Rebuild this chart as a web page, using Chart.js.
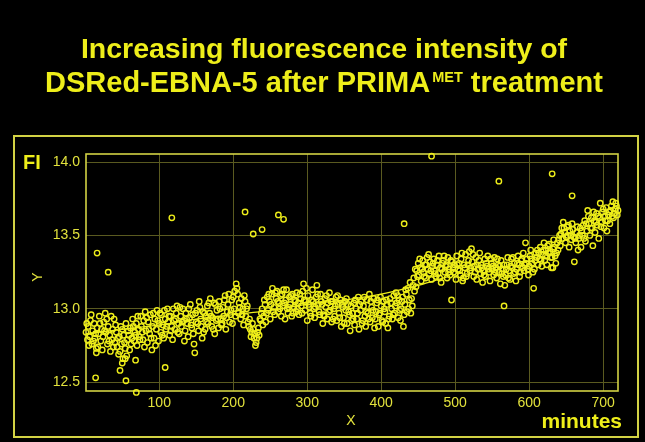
<!DOCTYPE html>
<html>
<head>
<meta charset="utf-8">
<title>DSRed-EBNA-5 fluorescence</title>
<script src="https://cdn.jsdelivr.net/npm/chart.js@4/dist/chart.umd.min.js"></script>
<style>
    html, body { margin: 0; padding: 0; background: #000; }
    #wrap { width: 645px; height: 442px; }
</style>
</head>
<body>
<div id="wrap"><canvas id="fiChart" width="645" height="442"></canvas></div>
<script>
// Trục và nhãn
const xTicks = [100, 200, 300, 400, 500, 600, 700];
const yTicks = [12.5, 13.0, 13.5, 14.0];
const xMin = 1, xMax = 720;
const yMin = 12.44, yMax = 14.055;

// Dữ liệu: [phút, FI]
const fi0to120 = [[1,12.84],[3,12.79],[4,12.88],[6,12.81],[7,12.92],[9,12.76],[10,12.85],[12,12.9],[13,12.8],[15,12.73],[16,12.87],[18,12.83],[19,12.95],[21,12.78],[22,12.86],[24,12.81],[25,12.91],[27,12.97],[28,12.84],[30,12.76],[31,12.88],[33,12.82],[34,12.71],[36,12.79],[37,12.86],[39,12.93],[40,12.77],[42,12.84],[43,12.74],[45,12.69],[46,12.81],[48,12.88],[49,12.76],[51,12.66],[52,12.82],[54,12.73],[55,12.9],[57,12.79],[58,12.85],[60,12.72],[61,12.87],[63,12.8],[64,12.93],[66,12.78],[67,12.84],[69,12.9],[70,12.75],[72,12.86],[73,12.81],[75,12.95],[76,12.88],[78,12.79],[79,12.92],[81,12.98],[82,12.85],[84,12.77],[85,12.91],[87,12.83],[88,12.96],[90,12.72],[91,12.88],[93,12.8],[94,12.93],[96,12.86],[97,12.99],[99,12.78],[100,12.9],[102,12.84],[103,12.96],[105,12.89],[106,12.8],[108,12.93],[109,12.86],[111,13.0],[112,12.91],[114,12.82],[115,12.95],[117,12.88],[118,12.79],[120,12.92],
    [2,12.9],[5,12.75],[8,12.96],[11,12.78],[14,12.83],[17,12.74],[20,12.9],[23,12.72],[26,12.85],[29,12.93],[32,12.78],[35,12.95],[38,12.74],[41,12.89],[44,12.8],[47,12.71],[50,12.86],[53,12.77],[56,12.68],[59,12.82],[62,12.76],[65,12.88],[68,12.82],[71,12.95],[74,12.79],[77,12.84],[80,12.74],[83,12.94],[86,12.86],[89,12.8],[92,12.97],[95,12.75],[98,12.92],[101,12.97],[104,12.82],[107,12.99],[110,12.88],[113,12.95],[116,12.85],[119,13.0]];

const fi120to240 = [[121,12.86],[123,12.97],[124,13.02],[126,12.9],[127,12.83],[129,12.95],[130,12.88],[132,13.0],[133,12.92],[135,12.85],[136,12.97],[138,12.9],[139,12.81],[141,12.94],[142,13.03],[144,12.87],[145,12.96],[147,12.76],[148,12.7],[150,12.91],[151,12.99],[153,12.85],[154,13.05],[156,12.93],[157,12.88],[159,12.98],[160,12.84],[162,12.86],[163,12.95],[165,13.02],[166,12.9],[168,12.97],[169,13.07],[171,12.88],[172,12.94],[174,13.04],[175,12.83],[177,12.92],[178,12.99],[180,12.87],[181,13.05],[183,12.93],[184,12.89],[186,13.01],[187,12.95],[189,13.09],[190,12.86],[192,12.98],[193,13.03],[195,12.91],[196,12.96],[198,13.06],[199,12.9],[201,13.0],[202,13.12],[204,13.17],[205,13.14],[207,12.97],[208,13.04],[210,12.93],[211,13.07],[213,13.0],[214,12.89],[216,13.05],[217,12.95],[219,13.02],[220,12.91],[222,12.93],[223,12.86],[225,12.84],[226,12.9],[228,12.8],[229,12.83],[231,12.77],[232,12.8],[234,12.87],[235,12.82],[237,12.92],[238,12.97],[240,12.89],
    [122,12.93],[125,12.84],[128,13.01],[131,12.91],[134,12.78],[137,12.93],[140,13.0],[143,12.89],[146,12.83],[149,12.97],[152,12.9],[155,13.01],[158,12.8],[161,12.97],[164,12.91],[167,13.04],[170,12.95],[173,12.86],[176,13.03],[179,12.93],[182,13.0],[185,12.9],[188,13.06],[191,12.94],[194,13.1],[197,12.99],[200,13.08],[203,12.95],[206,13.1],[209,13.01],[212,12.96],[215,13.09],[218,13.0],[221,12.88],[224,12.81],[227,12.86],[230,12.75],[233,12.84],[236,12.93],[239,13.0]];

const fi240to360 = [[241,12.95],[243,13.03],[244,12.91],[246,13.08],[247,12.99],[249,13.05],[250,12.93],[252,13.1],[253,13.14],[255,13.01],[256,12.96],[258,13.07],[259,13.12],[261,12.98],[262,13.04],[264,13.09],[265,12.95],[267,13.02],[268,13.13],[270,12.93],[271,13.06],[273,13.0],[274,12.97],[276,13.08],[277,13.03],[279,12.95],[280,13.1],[282,13.01],[283,13.06],[285,12.98],[286,13.11],[288,13.04],[289,12.96],[291,13.07],[292,13.02],[294,13.12],[295,13.17],[297,12.99],[298,13.05],[300,12.92],[301,13.09],[303,13.01],[304,12.97],[306,13.06],[307,13.13],[309,13.0],[310,12.94],[312,13.08],[313,13.16],[315,13.03],[316,12.98],[318,13.1],[319,13.05],[321,12.9],[322,12.96],[324,13.07],[325,13.01],[327,12.93],[328,13.04],[330,13.11],[331,12.99],[333,12.91],[334,13.05],[336,13.0],[337,12.95],[339,13.08],[340,12.92],[342,13.03],[343,12.97],[345,13.06],[346,12.88],[348,13.01],[349,12.94],[351,13.05],[352,12.99],[354,12.9],[355,13.03],[357,12.96],[358,12.85],[360,12.92],
    [242,13.06],[245,12.97],[248,13.1],[251,13.03],[254,12.98],[257,13.11],[260,13.05],[263,13.0],[266,13.1],[269,13.04],[272,13.13],[275,13.01],[278,13.09],[281,12.97],[284,13.05],[287,13.0],[290,13.1],[293,12.97],[296,13.06],[299,13.14],[302,13.03],[305,12.95],[308,13.05],[311,13.01],[314,13.1],[317,12.96],[320,13.03],[323,12.95],[326,13.09],[329,12.98],[332,13.05],[335,12.93],[338,13.02],[341,13.09],[344,12.94],[347,13.03],[350,12.9],[353,13.07],[356,12.98],[359,13.02]];

const fi360to450 = [[361,12.97],[363,13.04],[364,12.89],[366,13.0],[367,12.93],[369,13.08],[370,12.86],[372,12.99],[373,13.05],[375,12.92],[376,13.02],[378,12.95],[379,12.88],[381,13.06],[382,12.97],[384,13.1],[385,12.91],[387,13.01],[388,12.94],[390,13.07],[391,12.87],[393,12.98],[394,13.04],[396,12.88],[397,12.96],[399,13.08],[400,13.02],[402,12.91],[403,13.05],[405,12.98],[406,12.9],[408,13.03],[409,12.87],[411,12.95],[412,13.07],[414,13.0],[415,12.93],[417,13.09],[418,12.97],[420,13.11],[421,13.04],[423,12.94],[424,13.06],[426,12.92],[427,13.0],[429,13.08],[430,12.88],[432,13.03],[433,13.13],[435,12.98],[436,13.14],[438,13.06],[439,13.18],[440,12.97],[441,13.07],[442,13.02],[444,13.21],[445,13.12],[447,13.15],[448,13.26],
    [362,12.93],[365,13.06],[368,12.97],[371,13.03],[374,12.9],[377,13.08],[380,12.98],[383,12.93],[386,13.05],[389,12.99],[392,12.93],[395,13.06],[398,12.97],[401,12.92],[404,13.0],[407,13.06],[410,12.93],[413,13.04],[416,12.96],[419,13.02],[422,13.09],[425,12.99],[428,13.05],[431,12.96],[434,13.1],[437,13.0],[443,13.16],[446,13.27],[449,13.22]];

const fi450to613 = [[450,13.31],[451,13.23],[453,13.28],[454,13.19],[456,13.33],[457,13.25],[459,13.3],[460,13.21],[462,13.35],[463,13.27],[465,13.24],[466,13.32],[468,13.2],[469,13.29],[471,13.34],[472,13.26],[474,13.22],[475,13.3],[477,13.24],[478,13.36],[480,13.28],[481,13.18],[483,13.31],[484,13.33],[486,13.25],[487,13.29],[489,13.21],[490,13.35],[492,13.27],[493,13.23],[496,13.32],[498,13.25],[499,13.3],[501,13.2],[502,13.36],[504,13.27],[505,13.31],[507,13.23],[508,13.34],[510,13.19],[511,13.21],[513,13.28],[514,13.37],[516,13.24],[517,13.3],[519,13.39],[520,13.26],[522,13.41],[523,13.32],[525,13.22],[526,13.29],[528,13.35],[529,13.2],[531,13.27],[532,13.33],[534,13.24],[535,13.3],[537,13.18],[538,13.26],[540,13.34],[541,13.22],[543,13.29],[544,13.36],[546,13.25],[547,13.19],[549,13.31],[550,13.27],[552,13.23],[553,13.35],[555,13.28],[556,13.21],[558,13.3],[559,13.25],[561,13.17],[562,13.33],[564,13.27],[565,13.22],[567,13.16],[568,13.23],[570,13.3],[571,13.35],[573,13.26],[574,13.2],[576,13.34],[577,13.28],[579,13.24],[580,13.31],[582,13.19],[583,13.27],[585,13.36],[586,13.3],[588,13.25],[589,13.33],[591,13.28],[592,13.38],[594,13.3],[595,13.45],[597,13.34],[598,13.27],[599,13.23],[601,13.36],[602,13.4],[604,13.31],[605,13.25],[606,13.14],[608,13.33],[609,13.38],[611,13.4],[612,13.3],
    [452,13.34],[455,13.27],[458,13.22],[461,13.3],[464,13.37],[467,13.26],[470,13.31],[473,13.24],[476,13.33],[479,13.21],[482,13.27],[485,13.36],[488,13.3],[491,13.25],[494,13.33],[497,13.28],[500,13.24],[503,13.3],[506,13.26],[509,13.38],[512,13.3],[515,13.22],[518,13.33],[521,13.28],[524,13.37],[527,13.25],[530,13.3],[533,13.38],[536,13.28],[539,13.23],[542,13.31],[545,13.27],[548,13.34],[551,13.29],[554,13.25],[557,13.34],[560,13.29],[563,13.24],[566,13.3],[569,13.27],[572,13.21],[575,13.29],[578,13.35],[581,13.25],[584,13.31],[587,13.22],[590,13.34],[593,13.26],[596,13.31],[600,13.29],[603,13.34],[607,13.27],[610,13.35]];

const fi613to720 = [[614,13.34],[615,13.42],[617,13.29],[618,13.37],[620,13.45],[621,13.33],[623,13.4],[624,13.3],[626,13.38],[627,13.44],[629,13.35],[630,13.28],[632,13.41],[633,13.47],[635,13.36],[636,13.31],[638,13.45],[639,13.4],[641,13.5],[642,13.43],[644,13.55],[645,13.48],[646,13.59],[648,13.52],[649,13.45],[651,13.56],[652,13.5],[654,13.42],[655,13.53],[657,13.47],[658,13.58],[660,13.49],[661,13.32],[663,13.45],[664,13.52],[666,13.4],[667,13.48],[669,13.55],[670,13.42],[672,13.5],[673,13.57],[675,13.6],[676,13.46],[678,13.53],[679,13.67],[681,13.58],[682,13.5],[684,13.62],[685,13.55],[686,13.43],[688,13.6],[689,13.52],[691,13.65],[692,13.57],[694,13.48],[695,13.62],[696,13.72],[698,13.59],[699,13.66],[701,13.55],[702,13.63],[704,13.69],[705,13.53],[706,13.6],[708,13.66],[709,13.58],[711,13.7],[712,13.63],[713,13.73],[715,13.65],[716,13.68],[718,13.7],[719,13.64],
    [613,13.38],[616,13.33],[619,13.4],[622,13.36],[625,13.43],[628,13.39],[631,13.35],[634,13.42],[637,13.38],[640,13.47],[643,13.51],[647,13.55],[650,13.49],[653,13.57],[656,13.5],[659,13.54],[662,13.48],[665,13.56],[668,13.5],[671,13.53],[674,13.48],[677,13.58],[680,13.63],[683,13.55],[687,13.66],[690,13.59],[693,13.63],[697,13.56],[700,13.68],[703,13.6],[707,13.64],[710,13.67],[714,13.62],[717,13.72],[720,13.67]];

// Điểm lệch xa dải chính
const fiOutliers = [[16,13.38],[31,13.25],[117,13.62],[216,13.66],[227,13.51],[239,13.54],[261,13.64],[268,13.61],[431,13.58],[468,14.04],[559,13.87],[631,13.92],[658,13.77],[14,12.53],[15,12.7],[47,12.58],[50,12.63],[54,12.66],[55,12.51],[68,12.65],[69,12.43],[108,12.6],[495,13.06],[566,13.02],[632,13.28]];

// Đường làm trơn
const fitLine = [[1,12.83],[50,12.86],[100,12.89],[150,12.93],[200,12.96],[250,12.99],[300,13.03],[350,13.06],[400,13.1],[450,13.16],[490,13.22]];

const YELLOW = '#eeee1a';
const TICK_COLOR = '#e2e23c';
const GRID_COLOR = '#5a5a20';
const FRAME_COLOR = '#d2d244';

function toPoints(list) {
    return list.map(p => ({ x: p[0], y: p[1] }));
}

const allPoints = [].concat(fi0to120, fi120to240, fi240to360, fi360to450, fi450to613, fi613to720, fiOutliers);

// Vẽ nền, khung, tiêu đề và nhãn
const decorPlugin = {
    id: 'decor',
    beforeDraw(chart) {
        const ctx = chart.ctx;
        ctx.save();
        ctx.fillStyle = '#000';
        ctx.fillRect(0, 0, chart.width, chart.height);
        ctx.restore();
    },
    beforeDatasetsDraw(chart) {
        const ctx = chart.ctx;
        const a = chart.chartArea;
        ctx.save();
        ctx.strokeStyle = FRAME_COLOR;
        ctx.lineWidth = 1.6;
        ctx.strokeRect(a.left, a.top, a.right - a.left, a.bottom - a.top);
        ctx.restore();
    },
    afterDraw(chart) {
        const ctx = chart.ctx;
        ctx.save();

        // khung ngoài
        ctx.strokeStyle = FRAME_COLOR;
        ctx.lineWidth = 2;
        ctx.strokeRect(14, 136, 624, 301);

        // tiêu đề
        ctx.fillStyle = YELLOW;
        ctx.textBaseline = 'alphabetic';
        ctx.textAlign = 'left';
        ctx.font = 'bold 28.5px "Liberation Sans", Arial, sans-serif';
        const l1 = 'Increasing fluorescence intensity of';
        const w1 = ctx.measureText(l1).width;
        ctx.fillText(l1, 324 - w1 / 2, 58);

        const big = 'bold 29px "Liberation Sans", Arial, sans-serif';
        const small = 'bold 14.5px "Liberation Sans", Arial, sans-serif';
        const partA = 'DSRed-EBNA-5 after PRIMA';
        const partC = ' treatment';
        ctx.font = big;
        const wa = ctx.measureText(partA).width;
        const wc = ctx.measureText(partC).width;
        ctx.font = small;
        const wb = ctx.measureText('MET').width + 2;
        const startX = 324 - (wa + wb + wc) / 2;
        ctx.font = big;
        ctx.fillText(partA, startX, 92);
        ctx.font = small;
        ctx.fillText('MET', startX + wa + 2, 82);
        ctx.font = big;
        ctx.fillText(partC, startX + wa + wb, 92);

        // FI
        ctx.font = 'bold 20px "Liberation Sans", Arial, sans-serif';
        ctx.fillText('FI', 23, 169);

        // minutes
        ctx.font = 'bold 21px "Liberation Sans", Arial, sans-serif';
        ctx.textAlign = 'right';
        ctx.fillText('minutes', 622, 428);

        // X, Y
        ctx.fillStyle = TICK_COLOR;
        ctx.font = '14px "Liberation Sans", Arial, sans-serif';
        ctx.textAlign = 'center';
        ctx.textBaseline = 'middle';
        ctx.fillText('X', 351, 421);
        ctx.translate(38, 277);
        ctx.rotate(-Math.PI / 2);
        ctx.fillText('Y', 0, 0);

        ctx.restore();
    }
};

const ctx = document.querySelector('#fiChart').getContext('2d');

new Chart(ctx, {
    type: 'scatter',
    data: {
        datasets: [
            {
                label: 'FI',
                data: toPoints(allPoints),
                borderColor: YELLOW,
                backgroundColor: 'rgba(0,0,0,0)',
                borderWidth: 1.4,
                pointRadius: 2.7,
                clip: false
            },
            {
                type: 'line',
                label: 'fit',
                data: toPoints(fitLine),
                borderColor: YELLOW,
                borderWidth: 1.3,
                pointRadius: 0,
                tension: 0.4,
                fill: false
            }
        ]
    },
    options: {
        responsive: false,
        animation: false,
        events: [],
        layout: { padding: { left: 46, right: 27, top: 154, bottom: 0 } },
        plugins: {
            legend: { display: false },
            tooltip: { enabled: false }
        },
        scales: {
            x: {
                type: 'linear',
                min: xMin,
                max: xMax,
                afterBuildTicks: (scale) => { scale.ticks = xTicks.map(v => ({ value: v })); },
                afterFit: (scale) => { scale.height = 51; },
                grid: { color: GRID_COLOR, lineWidth: 1, drawTicks: false },
                border: { display: false },
                ticks: {
                    color: TICK_COLOR,
                    padding: 4,
                    maxRotation: 0,
                    font: { family: '"Liberation Sans", Arial, sans-serif', size: 14 }
                }
            },
            y: {
                type: 'linear',
                min: yMin,
                max: yMax,
                afterBuildTicks: (scale) => { scale.ticks = yTicks.map(v => ({ value: v })); },
                afterFit: (scale) => { scale.width = 40; },
                grid: { color: GRID_COLOR, lineWidth: 1, drawTicks: false },
                border: { display: false },
                ticks: {
                    color: TICK_COLOR,
                    padding: 6,
                    callback: (v) => Number(v).toFixed(1),
                    font: { family: '"Liberation Sans", Arial, sans-serif', size: 14 }
                }
            }
        }
    },
    plugins: [decorPlugin]
});
</script>
</body>
</html>
